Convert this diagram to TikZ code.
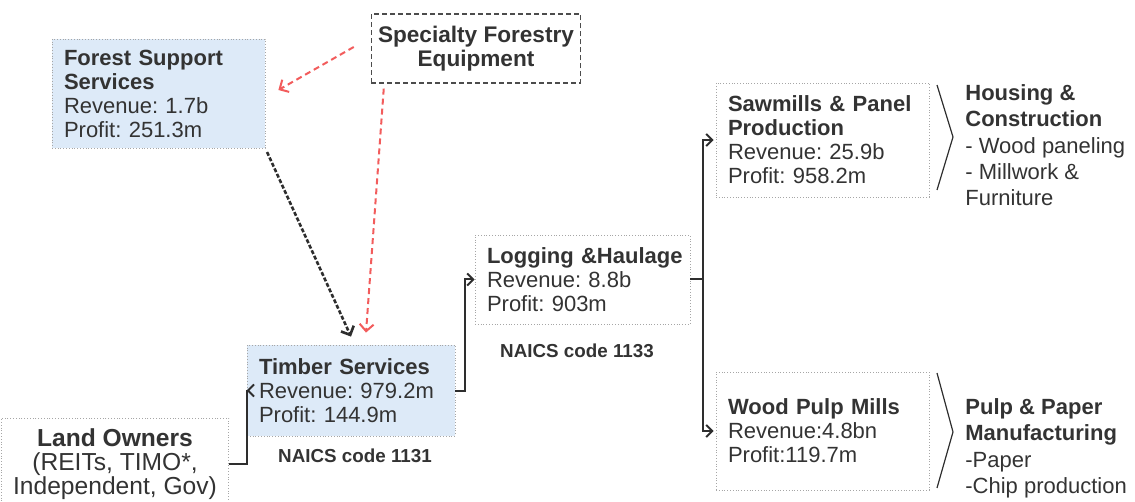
\documentclass[tikz,border=0pt]{standalone}
\usepackage{fontspec}
\setmainfont{Liberation Sans}
\usepackage{tikz}
\usetikzlibrary{arrows.meta,positioning,calc}
\definecolor{paleblue}{HTML}{DDEAF8}
\definecolor{ink}{HTML}{333333}
\definecolor{wire}{HTML}{2E2E2E}
\definecolor{alert}{HTML}{F25C5C}
\frenchspacing

\begin{document}
\begin{tikzpicture}[
  x=0.5pt, y=-0.5pt,
  font=\fontsize{11}{12}\selectfont, text=ink,
  unit/.style={draw=black!35, densely dotted, line width=0.4pt, align=left, inner xsep=6pt, inner ysep=0pt},
  shaded/.style={unit, fill=paleblue},
  note/.style={font=\fontsize{9.4}{10}\selectfont\bfseries, inner sep=0pt},
  link/.style={draw=wire, line width=1pt, -{Straight Barb[length=3pt,width=6pt]}},
  feed/.style={draw=wire, line width=1.3pt, dash pattern=on 2pt off 1pt, -{Straight Barb[length=3.5pt,width=7pt]}},
  supply/.style={draw=alert, line width=1pt, dash pattern=on 3pt off 2pt, -{Straight Barb[length=3.5pt,width=7pt]}},
  chevron/.style={draw=wire, line width=0.6pt},
  outlet/.style={anchor=north west, align=left, inner sep=0pt, font=\fontsize{11}{13.2}\selectfont}
]
\useasboundingbox (0,0) rectangle (1135,502);

\node[shaded, text width=94.5pt, minimum height=54.5pt] (forest) at (158.5,93.5)
  {\textbf{Forest~Support}\\\textbf{Services}\\Revenue: 1.7b\\Profit: 251.3m};
\node[draw=black!70, line width=0.6pt, dash pattern=on 2.5pt off 1.5pt, align=center,
  minimum width=104pt, minimum height=34.5pt, font=\fontsize{11.3}{12}\selectfont\bfseries] (specialty) at (476,48.5)
  {Specialty Forestry\\Equipment};
\node[shaded, text width=92pt, minimum height=45.5pt] (timber) at (351,390.5)
  {\textbf{Timber~Services}\\Revenue: 979.2m\\Profit: 144.9m};
\node[unit, align=center, minimum width=107pt, minimum height=46pt, font=\fontsize{12.3}{12}\selectfont] (land) at (115,464)
  {\textbf{Land Owners}\\(REITs, TIMO*,\\Independent, Gov)};
\node[unit, text width=95.5pt, minimum height=44.5pt] (logging) at (582.5,279.5)
  {\textbf{Logging~\&Haulage}\\Revenue: 8.8b\\Profit: 903m};
\node[unit, text width=94.5pt, minimum height=57pt] (sawmills) at (822.5,140)
  {\textbf{Sawmills~\&~Panel}\\\textbf{Production}\\Revenue: 25.9b\\Profit: 958.2m};
\node[unit, text width=94.5pt, minimum height=59pt] (pulp) at (822.5,431)
  {\textbf{Wood~Pulp~Mills}\\Revenue:4.8bn\\Profit:119.7m};

\node[note, below=6pt of timber, xshift=2pt] (code1131) {NAICS code 1131};
\node[note, below=9.5pt of logging, xshift=-2.75pt] (code1133) {NAICS code 1133};

\draw[chevron] (937,85) -- (953,137) -- (937,190);
\draw[chevron] (937,373) -- (953,432) -- (937,488);
\node[outlet] (housing) at (965,84)
  {\textbf{Housing \&}\\\textbf{Construction}\\- Wood paneling\\- Millwork \&\\Furniture};
\node[outlet] (paper) at (965,398)
  {\textbf{Pulp \& Paper}\\\textbf{Manufacturing}\\-Paper\\-Chip production};

\draw[link] (land.east) -- ++(9pt,0) |- (timber.west);
\draw[link] (timber.east) -- ++(5pt,0) |- (logging.west);
\coordinate[right=6.5pt of logging.east] (fork);
\draw[draw=wire, line width=1pt] (logging.east) -- (fork);
\draw[link, shorten >=1pt] (fork) |- (sawmills.west);
\draw[link, shorten >=1pt] (fork) |- (pulp.west);

\draw[feed, shorten <=2pt] (forest.south east) -- ([yshift=4pt]timber.north);
\draw[supply] ([xshift=-8.5pt,yshift=0.75pt]specialty.west) -- ([xshift=6.5pt,yshift=1.75pt]forest.east);
\draw[supply] ([xshift=6.5pt,yshift=-2.5pt]specialty.south west) -- ([xshift=7.5pt,yshift=6pt]timber.north);
\end{tikzpicture}
\end{document}
